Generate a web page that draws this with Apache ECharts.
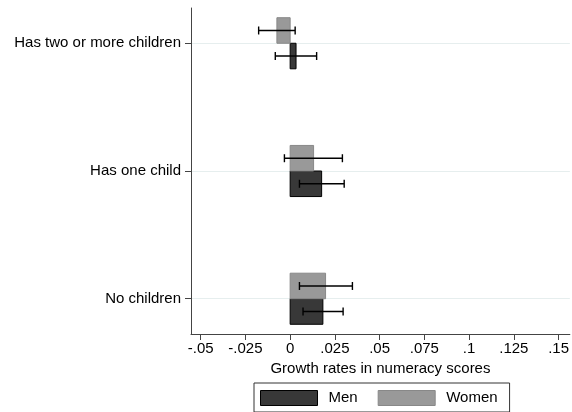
<!DOCTYPE html>
<html>
<head>
<meta charset="utf-8">
<script src="https://cdn.jsdelivr.net/npm/echarts@6/dist/echarts.min.js"></script>
<style>html,body{margin:0;padding:0;background:#fff}#c{width:572px;height:412px}</style>
</head>
<body>
<div id="c"></div>
<script>
// Categories (bottom to top on y-axis)
var categories = ['No children', 'Has one child', 'Has two or more children'];
// Men: point estimate, lower CI, upper CI
var menValue = [0.0183, 0.0176, 0.0033];
var menLow   = [0.0072, 0.0052, -0.0083];
var menHigh  = [0.0296, 0.0302, 0.0148];
// Women
var womenValue = [0.0198, 0.0131, -0.0074];
var womenLow   = [0.0052, -0.0032, -0.0176];
var womenHigh  = [0.0348, 0.0292, 0.0028];
// x tick values and labels
var xTicks = [-0.05, -0.025, 0, 0.025, 0.05, 0.075, 0.1, 0.125, 0.15];
var xTickLabels = ['-.05', '-.025', '0', '.025', '.05', '.075', '.1', '.125', '.15'];

var FONT = "'Liberation Sans', Arial, sans-serif";
var MEN_COLOR = '#383838', WOMEN_COLOR = '#999999';

function makeData(vals, lows, highs) {
  return categories.map(function (c, i) { return [i, vals[i], lows[i], highs[i]]; });
}

function makeRender(isMen, fill, stroke) {
  return function (params, api) {
    var cat = api.value(0), v = api.value(1), lo = api.value(2), hi = api.value(3);
    var yTop = isMen ? cat : cat + 0.2;
    var yBot = isMen ? cat - 0.2 : cat;
    var yMid = (yTop + yBot) / 2;
    var p0 = api.coord([0, yTop]);
    var p1 = api.coord([v, yBot]);
    var x0 = Math.min(p0[0], p1[0]), x1 = Math.max(p0[0], p1[0]);
    var y0 = Math.min(p0[1], p1[1]), y1 = Math.max(p0[1], p1[1]);
    var pl = api.coord([lo, yMid]);
    var ph = api.coord([hi, yMid]);
    var cap = 4;
    return {
      type: 'group',
      children: [
        { type: 'rect', shape: { x: x0, y: y0, width: x1 - x0, height: y1 - y0 },
          style: { fill: fill, stroke: stroke, lineWidth: 1 } },
        { type: 'line', shape: { x1: pl[0], y1: pl[1], x2: ph[0], y2: ph[1] },
          style: { stroke: '#000', lineWidth: 1.4 } },
        { type: 'line', shape: { x1: pl[0], y1: pl[1] - cap, x2: pl[0], y2: pl[1] + cap },
          style: { stroke: '#000', lineWidth: 1.4 } },
        { type: 'line', shape: { x1: ph[0], y1: ph[1] - cap, x2: ph[0], y2: ph[1] + cap },
          style: { stroke: '#000', lineWidth: 1.4 } }
      ]
    };
  };
}

var chart = echarts.init(document.getElementById('c'), null, { renderer: 'canvas' });
chart.setOption({
  animation: false,
  backgroundColor: '#fff',
  textStyle: { fontFamily: FONT },
  grid: { left: 191, right: 0, top: 8, bottom: 78, containLabel: false },
  xAxis: {
    type: 'value', min: -0.0554, max: 0.1563,
    name: 'Growth rates in numeracy scores', nameLocation: 'middle', nameGap: 25,
    nameTextStyle: { fontSize: 15, color: '#000', fontFamily: FONT },
    axisLine: { show: true, onZero: false, lineStyle: { color: '#444', width: 1 } },
    axisTick: { show: true, length: 6, lineStyle: { color: '#444' }, customValues: xTicks },
    axisLabel: { fontSize: 15, color: '#000', margin: 7, fontFamily: FONT, customValues: xTicks,
      formatter: function (val) {
        for (var i = 0; i < xTicks.length; i++) if (Math.abs(xTicks[i] - val) < 1e-9) return xTickLabels[i];
        return '';
      } },
    splitLine: { show: false }
  },
  yAxis: {
    type: 'value', min: -0.276, max: 2.276,
    axisLine: { show: true, onZero: false, lineStyle: { color: '#444', width: 1 } },
    axisTick: { show: true, length: 6, lineStyle: { color: '#444' }, customValues: [0, 1, 2] },
    axisLabel: { fontSize: 15, color: '#000', margin: 10, fontFamily: FONT, customValues: [0, 1, 2],
      formatter: function (val) { return categories[Math.round(val)] || ''; } },
    splitLine: { show: true, lineStyle: { color: '#e6eeee', width: 1 } }
  },
  legend: {
    left: 254, top: 383,
    orient: 'horizontal',
    itemWidth: 57, itemHeight: 15, itemGap: 20,
    padding: [7, 12, 6, 6],
    borderColor: '#333', borderWidth: 1,
    textStyle: { fontSize: 15, color: '#000', fontFamily: FONT, padding: [0, 0, 0, 6] },
    data: [
      { name: 'Men', icon: 'rect', itemStyle: { color: MEN_COLOR, borderColor: '#000', borderWidth: 1 } },
      { name: 'Women', icon: 'rect', itemStyle: { color: WOMEN_COLOR, borderColor: '#888', borderWidth: 1 } }
    ]
  },
  series: [
    { name: 'Men', type: 'custom', renderItem: makeRender(true, MEN_COLOR, '#000'),
      itemStyle: { color: MEN_COLOR },
      encode: { x: [1, 2, 3], y: 0 }, data: makeData(menValue, menLow, menHigh) },
    { name: 'Women', type: 'custom', renderItem: makeRender(false, WOMEN_COLOR, '#888'),
      itemStyle: { color: WOMEN_COLOR },
      encode: { x: [1, 2, 3], y: 0 }, data: makeData(womenValue, womenLow, womenHigh) }
  ]
});
</script>
</body>
</html>
